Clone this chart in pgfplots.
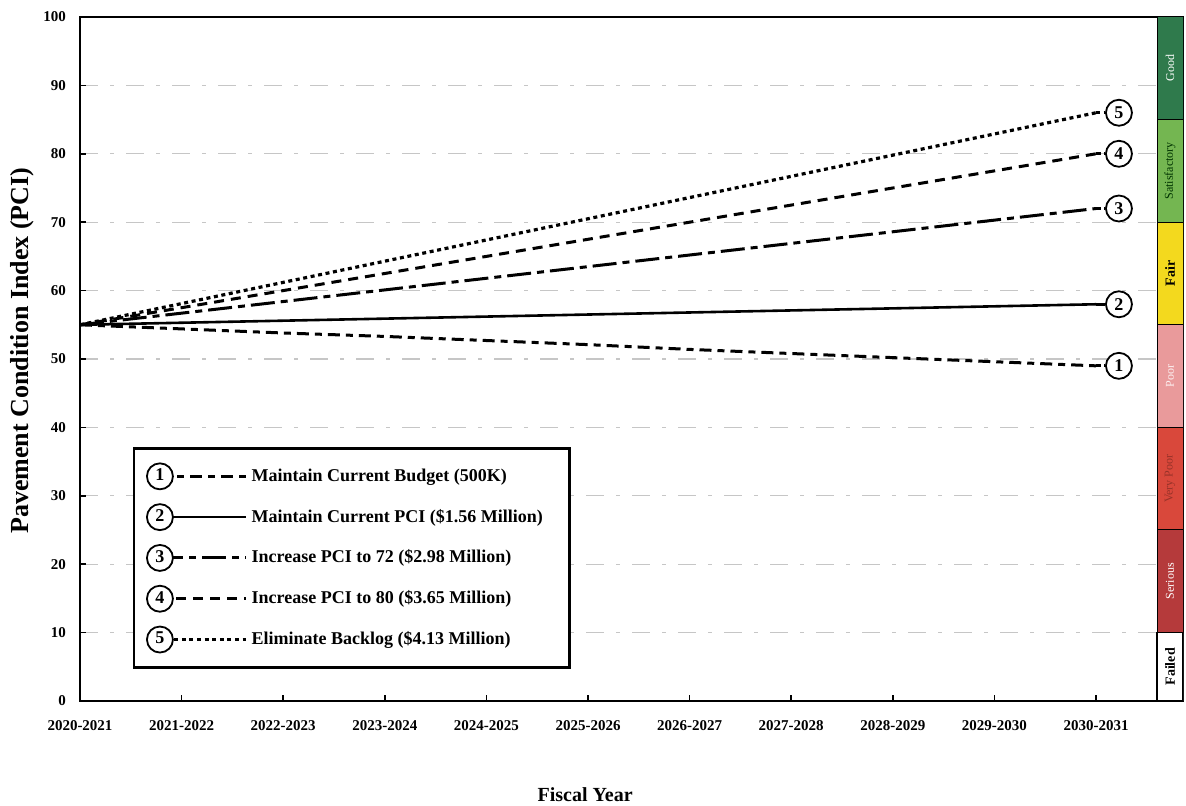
\documentclass[border=0pt]{standalone}
\usepackage{fontspec}
\setmainfont{Liberation Serif}
\usepackage{pgfplots}
\pgfplotsset{compat=1.18}

% condition band colours
\definecolor{pciGood}{HTML}{2F7A4C}
\definecolor{pciSat}{HTML}{74B651}
\definecolor{pciFair}{HTML}{F3D91E}
\definecolor{pciPoor}{HTML}{E99A9B}
\definecolor{pciVPoor}{HTML}{D9483B}
\definecolor{pciSerious}{HTML}{B53A3B}

\tikzset{
  endlabel/.style={circle, draw=black, solid, line width=0.9pt, fill=white,
    inner sep=0pt, minimum size=13pt, font=\bfseries\fontsize{9}{9}\selectfont},
  bandtext/.style={rotate=90, font=\fontsize{6}{6}\selectfont},
}

% scenario line styles and their legend samples
\pgfplotsset{
  sOne/.style={black, line width=1.5pt, dash pattern=on 6pt off 3pt on 3.5pt off 3pt},
  sTwo/.style={black, line width=1.3pt, solid},
  sThree/.style={black, line width=1.5pt, dash pattern=on 12pt off 3pt on 3.5pt off 3pt},
  sFour/.style={black, line width=1.5pt, dash pattern=on 5pt off 3.5pt},
  sFive/.style={black, line width=1.6pt, dash pattern=on 2pt off 1.8pt},
  legimg/.style={legend image code/.code={%
    \draw[##1] (13pt,0pt) -- (56.5pt,0pt);
    \node[endlabel] at (6.5pt,0pt) {#1};}},
}

\begin{document}
\begin{tikzpicture}
\begin{axis}[
  scale only axis,
  width=551.5pt, height=342pt,
  xmin=0, xmax=10.856,
  ymin=0, ymax=100,
  xtick={0,1,...,10},
  xticklabels={2020-2021,2021-2022,2022-2023,2023-2024,2024-2025,2025-2026,2026-2027,2027-2028,2028-2029,2029-2030,2030-2031},
  ytick={0,10,...,100},
  xtick pos=bottom, ytick pos=left,
  tick align=inside, major tick length=3pt,
  tick style={black, line width=0.8pt},
  /pgf/number format/assume math mode=true,
  ticklabel style={font=\bfseries\fontsize{7.5}{8}\selectfont},
  xticklabel style={yshift=-6pt},
  yticklabel style={xshift=-3.5pt},
  axis line style={black, line width=1.3pt},
  ymajorgrids,
  major grid style={gray!45, line width=0.6pt, dash pattern=on 9pt off 6pt on 2pt off 6pt},
  every axis y label/.style={at={(axis description cs:-0.0526,0.512)}, rotate=90, anchor=center,
    font=\bfseries\fontsize{13}{13}\selectfont},
  every axis x label/.style={at={(axis description cs:0.458,-0.137)}, anchor=center,
    font=\bfseries\fontsize{10}{10}\selectfont},
  ylabel={Pavement Condition Index (PCI)},
  xlabel={Fiscal Year},
  legend style={at={(axis cs:0.52,37.1)}, anchor=north west, draw=black, line width=1.2pt,
    fill=white, inner xsep=6pt, inner ysep=7pt, row sep=6.5pt,
    font=\bfseries\fontsize{9}{10}\selectfont, cells={anchor=west}},
]

% PCI condition bands on the right edge
\addplot[forget plot, fill=pciGood, draw=black, line width=0.5pt] coordinates {(10.6,85) (10.856,85) (10.856,100) (10.6,100) (10.6,85)};
\addplot[forget plot, fill=pciSat, draw=black, line width=0.5pt] coordinates {(10.6,70) (10.856,70) (10.856,85) (10.6,85) (10.6,70)};
\addplot[forget plot, fill=pciFair, draw=black, line width=0.5pt] coordinates {(10.6,55) (10.856,55) (10.856,70) (10.6,70) (10.6,55)};
\addplot[forget plot, fill=pciPoor, draw=black, line width=0.5pt] coordinates {(10.6,40) (10.856,40) (10.856,55) (10.6,55) (10.6,40)};
\addplot[forget plot, fill=pciVPoor, draw=black, line width=0.5pt] coordinates {(10.6,25) (10.856,25) (10.856,40) (10.6,40) (10.6,25)};
\addplot[forget plot, fill=pciSerious, draw=black, line width=0.5pt] coordinates {(10.6,10) (10.856,10) (10.856,25) (10.6,25) (10.6,10)};
\addplot[forget plot, fill=white, draw=black, line width=0.9pt] coordinates {(10.6,0) (10.856,0) (10.856,10) (10.6,10) (10.6,0)};

\node[bandtext, text=white] at (axis cs:10.728,92.5) {Good};
\node[bandtext, text=black!80!green] at (axis cs:10.728,77.5) {Satisfactory};
\node[bandtext, text=black, font=\bfseries\fontsize{7}{7}\selectfont] at (axis cs:10.728,62.5) {Fair};
\node[bandtext, text=white!85!pciPoor] at (axis cs:10.728,47.5) {Poor};
\node[bandtext, text=pciVPoor!70!black] at (axis cs:10.728,32.5) {Very Poor};
\node[bandtext, text=white] at (axis cs:10.728,17.5) {Serious};
\node[bandtext, text=black, font=\bfseries\fontsize{7}{7}\selectfont] at (axis cs:10.728,5) {Failed};

% scenario 1: maintain current budget
\addplot[sOne, legimg=1] coordinates {
  (0,55) (1,54.4) (2,53.8) (3,53.3) (4,52.7) (5,52.1) (6,51.4) (7,50.8) (8,50.2) (9,49.6) (10,49)
} node[pos=1, coordinate, pin={[endlabel, pin distance=4.5pt,
   pin edge={black, line width=1.4pt, dash pattern=on 2.5pt off 1.5pt}]0:1}] {};
\addlegendentry{Maintain Current Budget (500K)}

% scenario 2: maintain current PCI
\addplot[sTwo, legimg=2] coordinates {
  (0,55) (1,55.3) (2,55.6) (3,55.9) (4,56.2) (5,56.5) (6,56.8) (7,57.1) (8,57.4) (9,57.7) (10,58)
} node[pos=1, coordinate, pin={[endlabel, pin distance=4.5pt,
   pin edge={black, line width=1.3pt}]0:2}] {};
\addlegendentry{\makebox[151pt][l]{Maintain Current PCI (\$1.56 Million)}}

% scenario 3: increase PCI to 72
\addplot[sThree, legimg=3] coordinates {
  (0,55) (1,56.7) (2,58.4) (3,60.1) (4,61.8) (5,63.5) (6,65.2) (7,66.9) (8,68.6) (9,70.3) (10,72)
} node[pos=1, coordinate, pin={[endlabel, pin distance=4.5pt,
   pin edge={black, line width=1.4pt, dash pattern=on 2.5pt off 1.5pt}]0:3}] {};
\addlegendentry{Increase PCI to 72 (\$2.98 Million)}

% scenario 4: increase PCI to 80
\addplot[sFour, legimg=4] coordinates {
  (0,55) (1,57.5) (2,60) (3,62.5) (4,65) (5,67.5) (6,70) (7,72.5) (8,75) (9,77.5) (10,80)
} node[pos=1, coordinate, pin={[endlabel, pin distance=4.5pt,
   pin edge={black, line width=1.4pt, dash pattern=on 2.5pt off 1.5pt}]0:4}] {};
\addlegendentry{Increase PCI to 80 (\$3.65 Million)}

% scenario 5: eliminate backlog
\addplot[sFive, legimg=5] coordinates {
  (0,55) (1,58.1) (2,61.2) (3,64.3) (4,67.4) (5,70.5) (6,73.6) (7,76.7) (8,79.8) (9,82.9) (10,86)
} node[pos=1, coordinate, pin={[endlabel, pin distance=4.5pt,
   pin edge={black, line width=1.5pt, dash pattern=on 2pt off 1.8pt}]0:5}] {};
\addlegendentry{Eliminate Backlog (\$4.13 Million)}

\end{axis}
\pgfresetboundingbox
\path (-40pt,-52.5pt) rectangle (553pt,350.5pt);
\end{tikzpicture}
\end{document}
